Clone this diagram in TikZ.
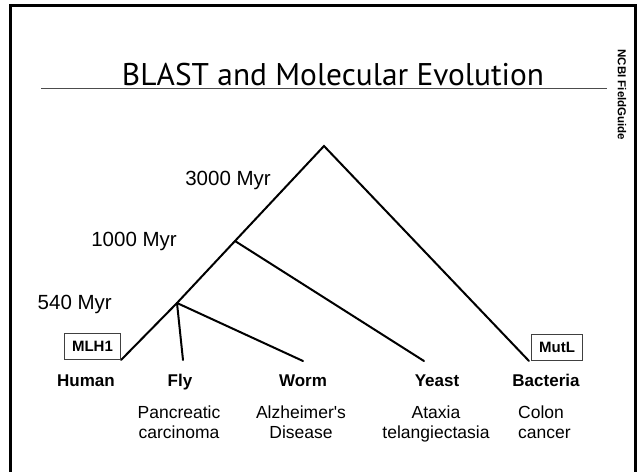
\documentclass[tikz,border=0pt]{standalone}
\usepackage{fontspec}
\setmainfont{Liberation Sans}
\newfontfamily\titlefont{PT Sans}
\begin{document}
\begin{tikzpicture}[x=1pt,y=-1pt,
  frame/.style={line width=2.7pt},
  rule/.style={line width=0.9pt, draw=black!70},
  branch/.style={line width=2pt, line cap=round},
  species/.style={font=\fontsize{17}{20}\selectfont\bfseries, anchor=base, inner sep=0pt},
  disease/.style={font=\fontsize{17.5}{20}\selectfont, anchor=north, align=center, inner sep=0pt},
  age/.style={font=\fontsize{20.5}{24}\selectfont, anchor=base east, inner sep=0pt},
  genebox/.style={draw=black!75, line width=1pt, font=\fontsize{15}{18}\selectfont\bfseries, inner sep=0pt, minimum height=26pt},
]
\useasboundingbox (0,0) rectangle (639,471);
\fill[white] (0,0) rectangle (639,471);
% frame
\draw[frame] (10.7,480) -- (10.7,5.3) -- (635.5,5.3) -- (635.5,480);
% title and rule
\node[anchor=base, inner sep=0pt] (title) at (333,85) {\resizebox{422pt}{!}{\titlefont BLAST and Molecular Evolution}};
\coordinate (ruleL) at (41,88);
\coordinate (ruleR) at (607,88);
\draw[rule] (ruleL) -- (ruleR);
\node[rotate=-90, inner sep=0pt, font=\fontsize{11.5}{13}\selectfont\bfseries] (ncbi) at (622,95) {NCBI FieldGuide};
% tree points
\coordinate (apex) at (324,146);
\coordinate (n1000) at (235,241);
\coordinate (n540) at (177,303);
\coordinate (lHuman) at (121,360);
\coordinate (lFly) at (183,360);
\coordinate (lWorm) at (303,361);
\coordinate (lYeast) at (424,361);
\coordinate (lBact) at (529,361);
\draw[branch] (lHuman) -- (n540) -- (n1000) -- (apex) -- (lBact);
\draw[branch] (n1000) -- (lYeast);
\draw[branch] (n540) -- (lFly);
\draw[branch] (n540) -- (lWorm);
% ages
\node[age] (a3000) at (271,185) {3000 Myr};
\node[age] (a1000) at (177,246) {1000 Myr};
\node[age] (a540) at (112,309) {540 Myr};
% gene boxes
\node[genebox, minimum width=56pt, anchor=south east] (mlh1) at (lHuman) {MLH1};
\node[genebox, minimum width=51pt, anchor=south west] (mutl) at ([xshift=2pt]lBact) {MutL};
% species
\node[species] (human) at (86,386) {Human};
\node[species] (fly) at (180,386) {Fly};
\node[species] (worm) at (303,386) {Worm};
\node[species] (yeast) at (437,386) {Yeast};
\node[species] (bact) at (546,386) {Bacteria};
% diseases
\node[disease] (dFly) at (179,405.5) {Pancreatic\\carcinoma};
\node[disease] (dWorm) at (301,405.5) {Alzheimer\textquotesingle s\\Disease};
\node[disease] (dYeast) at (436,405.5) {Ataxia\\telangiectasia};
\node[disease, align=left, anchor=north west] (dBact) at (518,405.5) {Colon\\cancer};
\end{tikzpicture}
\end{document}
